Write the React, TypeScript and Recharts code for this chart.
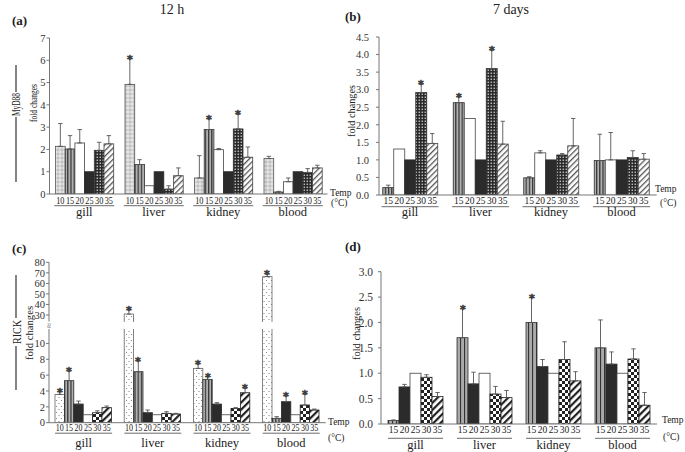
import React from "react";
import { BarChart, Bar, XAxis, YAxis, ErrorBar, LabelList } from "recharts";

const SERIF = "'Liberation Serif', 'DejaVu Serif', serif";

const ORGANS = ["gill", "liver", "kidney", "blood"];
const TEMPS_12H = [10, 15, 20, 25, 30, 35];
const TEMPS_7D = [15, 20, 25, 30, 35];

// (a) MyD88, 12 h. Rows follow ORGANS, columns follow TEMPS_12H.
const MYD88_12H_MEAN = [
  [2.14, 2.02, 2.29, 1.0, 1.96, 2.25],
  [4.92, 1.32, 0.37, 1.0, 0.22, 0.82],
  [0.72, 2.89, 1.99, 1.0, 2.92, 1.65],
  [1.59, 0.09, 0.55, 1.0, 0.97, 1.17],
];
// top of the error bar (null = no error bar drawn)
const MYD88_12H_TOP = [
  [3.16, 2.62, 2.89, null, 2.32, 2.62],
  [6.07, 1.54, null, null, 0.37, 1.17],
  [1.72, 3.37, 2.04, null, 3.57, 2.11],
  [1.69, 0.12, 0.72, null, 1.14, 1.29],
];
const MYD88_12H_SIG = [
  [0, 0, 0, 0, 0, 0],
  [1, 0, 0, 0, 0, 0],
  [0, 1, 0, 0, 1, 0],
  [0, 0, 0, 0, 0, 0],
];

// (b) MyD88, 7 days. Columns follow TEMPS_7D.
const MYD88_7D_MEAN = [
  [0.21, 1.31, 1.0, 2.92, 1.47],
  [2.63, 2.18, 1.0, 3.6, 1.45],
  [0.49, 1.2, 1.0, 1.14, 1.4],
  [0.98, 1.0, 1.0, 1.07, 1.02],
];
const MYD88_7D_TOP = [
  [0.28, null, null, 3.15, 1.75],
  [2.79, null, null, 4.12, 2.1],
  [0.52, 1.26, null, 1.18, 2.18],
  [1.73, 1.78, null, 1.26, 1.18],
];
const MYD88_7D_SIG = [
  [0, 0, 0, 1, 0],
  [1, 0, 0, 1, 0],
  [0, 0, 0, 0, 0],
  [0, 0, 0, 0, 0],
];

// (c) RICK, 12 h
const RICK_12H_MEAN = [
  [3.57, 5.3, 2.35, 1.0, 1.26, 1.9],
  [30.9, 6.43, 1.26, 1.0, 1.18, 1.1],
  [6.85, 5.46, 2.35, 1.0, 1.8, 3.78],
  [66.4, 0.55, 2.65, 1.0, 2.23, 1.6],
];
const RICK_12H_TOP = [
  [3.9, 6.5, 2.73, null, 1.5, 2.1],
  [34.7, 7.77, 1.6, null, 1.39, 1.18],
  [7.4, 5.8, 2.52, null, 1.9, 4.33],
  [68.6, 0.76, 3.36, null, 3.57, 1.72],
];
const RICK_12H_SIG = [
  [1, 1, 0, 0, 0, 0],
  [1, 1, 0, 0, 0, 0],
  [1, 1, 0, 0, 0, 1],
  [1, 0, 1, 0, 1, 0],
];
const RICK_TICKS = [0, 2, 4, 6, 8, 10, 30, 40, 50, 60, 70, 80];

// (d) RICK, 7 days
const RICK_7D_MEAN = [
  [0.07, 0.73, 1.0, 0.92, 0.54],
  [1.7, 0.79, 1.0, 0.59, 0.52],
  [2.0, 1.13, 1.0, 1.27, 0.85],
  [1.5, 1.18, 1.0, 1.28, 0.37],
];
const RICK_7D_TOP = [
  [0.08, 0.78, null, 0.97, 0.62],
  [2.27, 1.02, null, 0.74, 0.66],
  [2.49, 1.27, null, 1.62, 1.03],
  [2.05, 1.42, null, 1.48, 0.62],
];
const RICK_7D_SIG = [
  [0, 0, 0, 0, 0],
  [1, 0, 0, 0, 0],
  [1, 0, 0, 0, 0],
  [0, 0, 0, 0, 0],
];

// broken axis for (c): 0-12 linear, then 30-80 squeezed
const brk = (v: number) => (v <= 12 ? v : 13.58 + (v - 30) * 0.1329);
const BREAK_GAP: [number, number] = [11.82, 12.7];

function buildRows(mean: number[][], top: (number | null)[][], sig: number[][], temps: number[], f = (v: number) => v) {
  return ORGANS.map((organ, i) => {
    const row: Record<string, any> = { organ };
    temps.forEach((t, j) => {
      const v = mean[i][j];
      const tp = top[i][j];
      row[`v${t}`] = f(v);
      row[`t${t}`] = tp == null ? f(v) : f(tp);
      row[`e${t}`] = tp == null ? null : [0, f(tp) - f(v)];
      row[`s${t}`] = sig[i][j];
    });
    return row;
  });
}

const WHITE = { fill: "#fff", stroke: "#444" };
const BLACK = { fill: "#2b2b2b", stroke: "#2b2b2b" };
const STYLE_A = [
  { fill: "url(#pDotLight)", stroke: "#555" },
  { fill: "url(#pVert)", stroke: "#333" },
  WHITE,
  BLACK,
  { fill: "url(#pFineCheck)", stroke: "#333" },
  { fill: "url(#pDiagLight)", stroke: "#444" },
];
const STYLE_B = [
  { fill: "url(#pVert)", stroke: "#333" },
  WHITE,
  BLACK,
  { fill: "url(#pFineCheck)", stroke: "#333" },
  { fill: "url(#pDiagLight)", stroke: "#444" },
];
const STYLE_C = [
  { fill: "url(#pSparseDot)", stroke: "#666" },
  { fill: "url(#pVert)", stroke: "#333" },
  BLACK,
  WHITE,
  { fill: "url(#pCheck)", stroke: "#222" },
  { fill: "url(#pDiagBold)", stroke: "#222" },
];
const STYLE_D = [
  { fill: "url(#pVertWide)", stroke: "#333" },
  BLACK,
  WHITE,
  { fill: "url(#pCheck)", stroke: "#222" },
  { fill: "url(#pDiagBold)", stroke: "#222" },
];

function BarShape(p: any) {
  const { x, y, width, height, fill, stroke, v, gap } = p;
  if (!width || height == null) return null;
  const body = <rect x={x} y={y} width={width} height={height} fill={fill} stroke={stroke} strokeWidth={0.8} />;
  if (!gap || !v) return body;
  const ppu = height / v;
  const base = y + height;
  const g1 = base - gap[1] * ppu;
  const g2 = base - gap[0] * ppu;
  if (y > g1) return body;
  return (
    <g>
      {body}
      <rect x={x - 1} y={g1} width={width + 2} height={g2 - g1} fill="#fff" />
    </g>
  );
}

const tempLabel = (t: number, dy: number, squeeze: boolean) => (p: any) => {
  const vb = p.viewBox ?? p;
  return (
    <text
      x={vb.x + vb.width / 2}
      y={vb.y + vb.height + dy}
      textAnchor="middle"
      fontSize={9.5}
      textLength={squeeze ? vb.width - 1.4 : undefined}
      lengthAdjust="spacingAndGlyphs"
      fill="#222"
      fontFamily={SERIF}
    >
      {t}
    </text>
  );
};

const StarLabel = (p: any) => {
  if (!p.value) return null;
  const [v, tp] = String(p.value).split("|").map(Number);
  const vb = p.viewBox ?? p;
  if (!v || !vb.height) return null;
  const yTop = vb.y - (tp - v) * (vb.height / v);
  return (
    <text
      x={Math.round(vb.x + vb.width / 2)}
      y={Math.round(yTop + 4)}
      textAnchor="middle"
      fontSize={11}
      fontWeight="bold"
      fill="#3a3a3a"
      stroke="#3a3a3a"
      strokeWidth={0.5}
      fontFamily="'DejaVu Sans', sans-serif"
    >
      *
    </text>
  );
};

function OrganTick({ x, y, payload, half, uy, oy }: any) {
  return (
    <g>
      <line x1={x - half} x2={x + half} y1={y + uy} y2={y + uy} stroke="#444" strokeWidth={0.8} />
      <text x={x} y={y + oy} textAnchor="middle" fontSize={12.5} fill="#222" fontFamily={SERIF}>
        {payload.value}
      </text>
    </g>
  );
}

function Panel(cfg: any) {
  const { left, top, width, height, rows, temps, styles, domain, ticks, fmt, yw, margin, barSize, padLeft, xh, tickMargin, tickFont, offs, half, gap } = cfg;
  const squeeze = temps.length > 5;
  return (
    <div style={{ position: "absolute", left, top }}>
      <BarChart width={width} height={height} data={rows} margin={margin} barGap={0} barSize={barSize}>
        <XAxis
          dataKey="organ"
          interval={0}
          height={xh}
          axisLine={{ stroke: "#777" }}
          tickLine={false}
          tickSize={0}
          tickMargin={0}
          padding={{ left: padLeft, right: 0 }}
          tick={(p: any) => <OrganTick {...p} half={half} uy={offs.u} oy={offs.o} />}
        />
        <YAxis
          type="number"
          domain={domain}
          ticks={ticks}
          interval={0}
          tickFormatter={fmt}
          width={yw}
          axisLine={{ stroke: "#777" }}
          tickLine={{ stroke: "#777" }}
          tickSize={3}
          tickMargin={tickMargin}
          allowDataOverflow
          tick={{ fontSize: tickFont, fill: "#333", fontFamily: SERIF }}
        />
        {temps.map((t: number, j: number) => (
          <Bar
            key={t}
            dataKey={`v${t}`}
            fill={styles[j].fill}
            stroke={styles[j].stroke}
            isAnimationActive={false}
            shape={(p: any) => <BarShape {...p} v={p.payload[`v${t}`]} gap={gap} />}
          >
            <ErrorBar dataKey={`e${t}`} direction="y" width={2.2} stroke="#555" strokeWidth={0.9} />
            <LabelList dataKey={`v${t}`} content={tempLabel(t, offs.n, squeeze)} />
            <LabelList dataKey={(r: any) => (r[`s${t}`] ? `${r[`v${t}`]}|${r[`t${t}`]}` : "")} content={StarLabel} />
          </Bar>
        ))}
      </BarChart>
    </div>
  );
}

function Patterns() {
  return (
    <svg width={0} height={0} style={{ position: "absolute" }}>
      <defs>
        <pattern id="pDotLight" width={4} height={4} patternUnits="userSpaceOnUse">
          <rect width={4} height={4} fill="#e4e4e4" />
          <circle cx={2} cy={2} r={1.1} fill="none" stroke="#999" strokeWidth={0.6} />
        </pattern>
        <pattern id="pVert" width={3.2} height={4} patternUnits="userSpaceOnUse">
          <rect width={3.2} height={4} fill="#b0b0b0" />
          <rect width={1.2} height={4} fill="#333" />
        </pattern>
        <pattern id="pVertWide" width={4} height={4} patternUnits="userSpaceOnUse">
          <rect width={4} height={4} fill="#aaa" />
          <rect width={1.1} height={4} fill="#333" />
        </pattern>
        <pattern id="pFineCheck" width={3} height={3} patternUnits="userSpaceOnUse">
          <rect width={3} height={3} fill="#2a2a2a" />
          <rect x={0.6} y={0.6} width={1.3} height={1.3} fill="#ddd" />
        </pattern>
        <pattern id="pDiagLight" width={4} height={4} patternUnits="userSpaceOnUse" patternTransform="rotate(45)">
          <rect width={4} height={4} fill="#fff" />
          <rect width={1.3} height={4} fill="#555" />
        </pattern>
        <pattern id="pSparseDot" width={5} height={6} patternUnits="userSpaceOnUse">
          <rect width={5} height={6} fill="#fff" />
          <circle cx={1.5} cy={1.5} r={0.6} fill="#777" />
          <circle cx={4} cy={4.5} r={0.6} fill="#777" />
        </pattern>
        <pattern id="pCheck" width={6} height={6} patternUnits="userSpaceOnUse">
          <rect width={6} height={6} fill="#fff" />
          <rect width={3} height={3} fill="#222" />
          <rect x={3} y={3} width={3} height={3} fill="#222" />
        </pattern>
        <pattern id="pDiagBold" width={5} height={5} patternUnits="userSpaceOnUse" patternTransform="rotate(45)">
          <rect width={5} height={5} fill="#fff" />
          <rect width={2.2} height={5} fill="#222" />
        </pattern>
      </defs>
    </svg>
  );
}

const VText = ({ x, y, size, len, children }: any) => (
  <text
    transform={`translate(${x},${y}) rotate(-90)`}
    textAnchor="middle"
    dominantBaseline="central"
    fontSize={size}
    textLength={len}
    lengthAdjust="spacingAndGlyphs"
    fill="#222"
    fontFamily={SERIF}
  >
    {children}
  </text>
);

const T = ({ x, y, size = 9.5, bold, anchor = "start", children }: any) => (
  <text x={x} y={y} fontSize={size} fontWeight={bold ? "bold" : "normal"} textAnchor={anchor} fill="#222" fontFamily={SERIF}>
    {children}
  </text>
);

export default function App() {
  const rowsA = buildRows(MYD88_12H_MEAN, MYD88_12H_TOP, MYD88_12H_SIG, TEMPS_12H);
  const rowsB = buildRows(MYD88_7D_MEAN, MYD88_7D_TOP, MYD88_7D_SIG, TEMPS_7D);
  const rowsC = buildRows(RICK_12H_MEAN, RICK_12H_TOP, RICK_12H_SIG, TEMPS_12H, brk);
  const rowsD = buildRows(RICK_7D_MEAN, RICK_7D_TOP, RICK_7D_SIG, TEMPS_7D);
  const rickTicks = RICK_TICKS.map(brk);
  const rickFmt = (v: number) => {
    const i = rickTicks.findIndex((t) => Math.abs(t - v) < 1e-6);
    return i >= 0 ? String(RICK_TICKS[i]) : "";
  };

  return (
    <div style={{ position: "absolute", left: 0, top: 0, width: 685, height: 452, background: "#fff", overflow: "hidden" }}>
      <Patterns />
      <Panel
        left={0} top={0} width={345} height={225}
        rows={rowsA} temps={TEMPS_12H} styles={STYLE_A}
        domain={[0, 7]} ticks={[0, 1, 2, 3, 4, 5, 6, 7]} fmt={(v: number) => String(v)}
        yw={49.5} margin={{ top: 38, right: 17.5, bottom: 1, left: 0 }} xh={30}
        barSize={9.7} padLeft={0} tickMargin={1} tickFont={10.5}
        offs={{ n: 9.7, u: 11.7, o: 22 }} half={30}
      />
      <Panel
        left={340} top={0} width={345} height={225}
        rows={rowsB} temps={TEMPS_7D} styles={STYLE_B}
        domain={[0, 4.5]} ticks={[0, 0.5, 1, 1.5, 2, 2.5, 3, 3.5, 4, 4.5]} fmt={(v: number) => v.toFixed(1)}
        yw={39} margin={{ top: 37, right: 28.25, bottom: 0, left: 0 }} xh={30}
        barSize={11} padLeft={-4.25} tickMargin={7} tickFont={10.5}
        offs={{ n: 9, u: 11.7, o: 21 }} half={28.5}
      />
      <Panel
        left={0} top={225} width={345} height={227}
        rows={rowsC} temps={TEMPS_12H} styles={STYLE_C}
        domain={[0, brk(80)]} ticks={rickTicks} fmt={rickFmt}
        yw={49} margin={{ top: 37.3, right: 19.2, bottom: 0.3, left: 0 }} xh={29}
        barSize={9.4} padLeft={0} tickMargin={1} tickFont={10.5}
        offs={{ n: 8.5, u: 10.5, o: 24 }} half={28.5} gap={BREAK_GAP}
      />
      <Panel
        left={340} top={225} width={345} height={227}
        rows={rowsD} temps={TEMPS_7D} styles={STYLE_D}
        domain={[0, 3]} ticks={[0, 0.5, 1, 1.5, 2, 2.5, 3]} fmt={(v: number) => v.toFixed(1)}
        yw={41} margin={{ top: 46.7, right: 28, bottom: 0, left: 0 }} xh={28}
        barSize={11} padLeft={0} tickMargin={5} tickFont={11.5}
        offs={{ n: 9.3, u: 14.3, o: 25 }} half={27.5}
      />
      <svg width={685} height={452} style={{ position: "absolute", left: 0, top: 0, pointerEvents: "none" }}>
        <T x={172} y={13.5} size={14} anchor="middle">12 h</T>
        <T x={511} y={13.5} size={14} anchor="middle">7 days</T>
        <T x={12} y={24.5} size={13} bold>(a)</T>
        <T x={345} y={21} size={13} bold>(b)</T>
        <T x={12} y={253} size={13} bold>(c)</T>
        <T x={345} y={251} size={13} bold>(d)</T>

        <line x1={16} x2={16} y1={65} y2={92} stroke="#333" strokeWidth={1.2} />
        <line x1={16} x2={16} y1={117} y2={182} stroke="#333" strokeWidth={1.2} />
        <VText x={16} y={104.5} size={12.5} len={23}>MyD88</VText>
        <VText x={34} y={103} size={9.5} len={38}>fold changes</VText>

        <line x1={16} x2={16} y1={275} y2={318} stroke="#333" strokeWidth={1.2} />
        <line x1={16} x2={16} y1={346} y2={390} stroke="#333" strokeWidth={1.2} />
        <VText x={16.5} y={332} size={12.5} len={24}>RICK</VText>
        <VText x={29} y={333} size={10.5} len={54}>fold changes</VText>

        <VText x={351} y={111} size={10.5} len={52}>fold changes</VText>
        <VText x={356} y={333.5} size={10.5} len={53}>fold changes</VText>

        <rect x={45} y={321.5} width={8} height={7.5} fill="#fff" />
        <text transform="translate(49,325.5) rotate(-90)" textAnchor="middle" dominantBaseline="central" fontSize={9} fill="#555" fontFamily={SERIF}>≈</text>

        <T x={330} y={196}>Temp</T>
        <T x={331} y={206}>(°C)</T>
        <T x={655} y={192}>Temp</T>
        <T x={660} y={206}>(°C)</T>
        <T x={328} y={425}>Temp</T>
        <T x={328} y={441}>(°C)</T>
        <T x={662} y={423}>Temp</T>
        <T x={663} y={440}>(°C)</T>
      </svg>
    </div>
  );
}
